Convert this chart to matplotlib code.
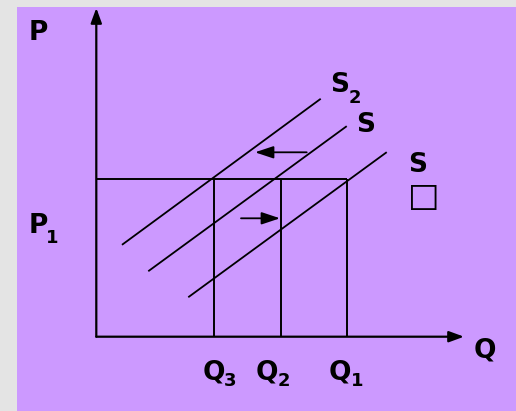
import matplotlib
matplotlib.use("Agg")
import matplotlib.pyplot as plt
from matplotlib.patches import Rectangle

# ---- data (economic coordinates: quantity q, price p) ----
q_levels = [118.0, 184.4, 250.4]          # Q3, Q2, Q1
q_labels = ["Q", "Q", "Q"]
q_subs = ["3", "2", "1"]
p1 = 157.7

s2_q = [26.4, 223.7]
s2_p = [92.4, 237.4]
s_q = [52.7, 249.7]
s_p = [66.0, 210.0]
s1_q = [92.7, 289.7]
s1_p = [40.0, 184.0]

x_axis_end = 367.7
y_axis_end = 328.7

left_arrow = ([210.4, 184.4], [158.7, 184.4])   # (start, tip)
right_arrow = ([144.7, 118.4], [183.7, 118.4])

BG = "#e4e4e4"
PURPLE = "#cc99ff"
FONT = "DejaVu Sans"
BIG = 19
SMALL = 13

fig = plt.figure(figsize=(5.16, 4.11), dpi=100, facecolor=BG)
ax = fig.add_axes([0, 0, 1, 1])
ax.set_xlim(-96.3, 419.7)
ax.set_ylim(-74.3, 336.7)
ax.axis("off")

ax.add_patch(Rectangle((17 / 516, 0), 1, (411 - 7.3) / 411, transform=ax.transAxes,
                       facecolor=PURPLE, edgecolor="none", zorder=0))

# axes with arrows
ap = dict(arrowstyle="-|>,head_length=0.6,head_width=0.22", lw=1.6, color="black",
          mutation_scale=15, shrinkA=0, shrinkB=0)
ax.annotate("", xy=(0, y_axis_end), xytext=(0, 0), arrowprops=ap)
ax.annotate("", xy=(x_axis_end, 0), xytext=(0, 0), arrowprops=ap)

# price line and quantity verticals
ax.plot([0, q_levels[2]], [p1, p1], color="black", lw=1.4, solid_capstyle="butt")
for q in q_levels:
    ax.plot([q, q], [0, p1], color="black", lw=1.4, solid_capstyle="butt")

# supply curves
for xs, ys in [(s2_q, s2_p), (s_q, s_p), (s1_q, s1_p)]:
    ax.plot(xs, ys, color="black", lw=1.3)

# shift arrows
sp = dict(arrowstyle="-|>,head_length=0.75,head_width=0.25", lw=1.3, color="black",
          mutation_scale=15, shrinkA=0, shrinkB=0)
for start, tip in [left_arrow, right_arrow]:
    ax.annotate("", xy=tip, xytext=start, arrowprops=sp)

tb = dict(family=FONT, fontweight="bold", color="black", ha="left", va="baseline")
# axis labels
ax.text(-68, 296.7, "P", fontsize=BIG, **tb)
ax.text(-67.3, 103.7, "P", fontsize=BIG, **tb)
ax.text(-50.0, 93.4, "1", fontsize=SMALL, **tb)
ax.text(377.5, -20.3, "Q", fontsize=BIG, **tb)

q_text_x = [106.0, 159.5, 232.8]
for q, lab, sub in zip(q_text_x, q_labels, q_subs):
    ax.text(q, -42.3, lab, fontsize=BIG, **tb)
    ax.text(q + 21.5, -49.3, sub, fontsize=SMALL, **tb)

# supply labels
ax.text(233.5, 244.4, "S", fontsize=BIG, **tb)
ax.text(252.5, 234.0, "2", fontsize=SMALL, **tb)
ax.text(259.5, 204.4, "S", fontsize=BIG, **tb)
ax.text(312.0, 165.0, "S", fontsize=BIG, **tb)
ax.text(327.2, 140.5, "\u25a1", fontsize=24, family=FONT, color="black",
        ha="center", va="center")

fig.savefig("out.png", dpi=100, facecolor=BG)
